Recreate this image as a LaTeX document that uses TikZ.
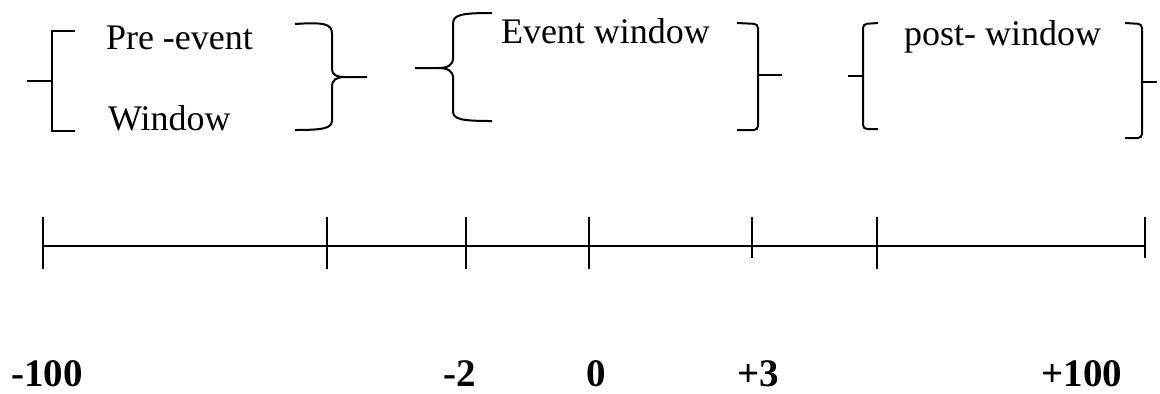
\documentclass[tikz,border=0pt]{standalone}
\usepackage{fontspec}
\setmainfont{Liberation Serif}
\begin{document}
\begin{tikzpicture}[x=0.5pt, y=-0.5pt, line width=1pt,
    every node/.style={inner sep=0pt, font=\fontsize{18}{22}\selectfont},
    tick/.style={font=\fontsize{19.5}{23}\selectfont\bfseries, anchor=base}]

            \useasboundingbox (0,0) rectangle (1160,393);

            % Window texts
            \node[anchor=base west] (pre) at (105,49) {Pre -event};
            \node[anchor=base west] (win) at (107,130) {Window};
            \node[anchor=base west] (evt) at (500,43) {Event window};
            \node[anchor=base west] (post) at (903,45) {post- window};

            % Pre-event window brackets
            \draw (75,31) -- (52,31) -- (52,131) -- (75,131);
            \draw (27,81) -- (52,81);
            \draw (295,24) .. controls (325,22) and (332,24) .. (332,34) -- (332,68)
                  .. controls (332,75) and (336,77) .. (345,77) -- (367,77);
            \draw (345,77) .. controls (336,77) and (332,80) .. (332,87) -- (332,120)
                  .. controls (332,128) and (325,130) .. (295,130);

            % Event window brackets
            \draw (492,13) .. controls (460,13) and (453,15) .. (453,24) -- (453,58)
                  .. controls (453,65) and (448,68) .. (438,68) -- (415,68);
            \draw (438,68) .. controls (448,68) and (453,71) .. (453,78) -- (453,111)
                  .. controls (453,119) and (460,121) .. (492,121);
            \draw[rounded corners=2pt] (737,23) -- (758,24) -- (758,130) -- (737,130);
            \draw (758,75) -- (782,75);

            % Post-window brackets
            \draw[rounded corners=2pt] (878,23) -- (863,24) -- (863,129) -- (878,129);
            \draw (848,76) -- (863,76);
            \draw[rounded corners=2pt] (1125,23) -- (1142,24) -- (1142,138) -- (1125,138);
            \draw (1142,82) -- (1157,82);

            % Time line
            \coordinate (start) at (43,246);
            \coordinate (end) at (1145,246);
            \draw (start) -- (end);
            \foreach \x in {43,327,466,589,877}
              \draw (\x,217) -- (\x,269);
            \foreach \x in {752,1145}
              \draw (\x,217) -- (\x,258);

            % Day labels
            \node[tick] (m100) at (47,386) {-100};
            \node[tick] (m2) at (460,386) {-2};
            \node[tick] (zero) at (596,386) {0};
            \node[tick] (p3) at (758,386) {+3};
            \node[tick] (p100) at (1082,386) {+100};

          \end{tikzpicture}
\end{document}
